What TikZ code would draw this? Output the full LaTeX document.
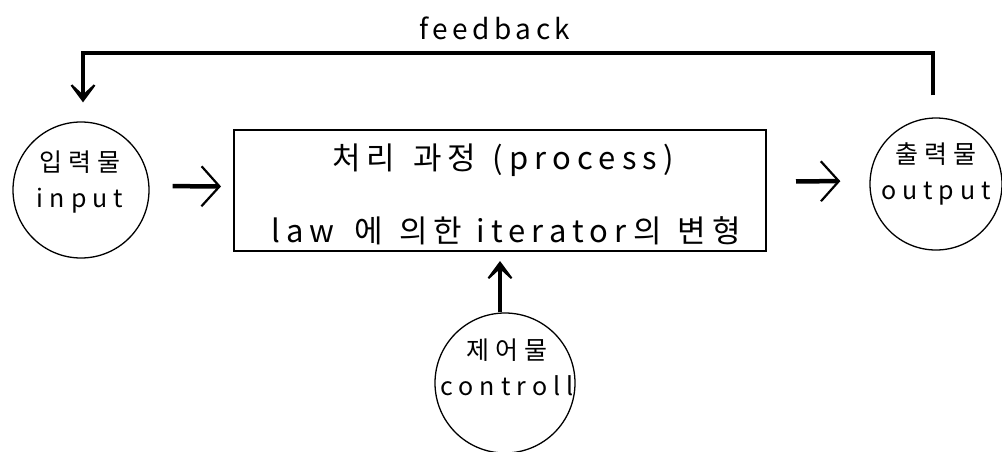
\documentclass[tikz,border=0pt]{standalone}
\usepackage{fontspec}
\setmainfont{Noto Sans CJK KR}
\newfontfamily\kr{Noto Sans CJK KR}[LetterSpace=20]
\newfontfamily\krc{Noto Sans CJK KR}[LetterSpace=24]
\newfontfamily\krf{Noto Sans CJK KR}[LetterSpace=16]
\usetikzlibrary{arrows.meta,calc}
\begin{document}
\begin{tikzpicture}[x=1pt,y=-1pt,
  blob/.style={circle,draw,line width=1.3pt,minimum size=#1,inner sep=0pt},
  blobtext/.style={align=center,inner sep=0pt,font=\krc\fontsize{25}{36}\selectfont},
  procbox/.style={draw,line width=2pt,minimum width=532pt,minimum height=121pt,inner sep=0pt},
  flow/.style={line width=4.5pt,-{Straight Barb[length=18pt,width=40pt,line width=2.2pt]}},
  fb/.style={line width=4pt,-{Stealth[length=25pt,width=37pt,inset=17pt]}},
  lbl/.style={font=\kr\fontsize{31}{34}\selectfont,inner sep=0pt,anchor=base}]
\useasboundingbox (0,0) rectangle (1002,451);
\node[blob=136pt] (inp) at (81,190) {};
\node[blobtext] (inpT) at (80,182) {입력물\\input};
\node[procbox] (proc) at (500,190.5) {};
\node[lbl] (t1) at (503,169) {처리\hspace{18pt}과정\hspace{16pt}(process)};
\node[lbl] (t2) at (506,242) {law\hspace{20pt}에\hspace{16pt}의한\hspace{14pt}iterator의\hspace{16pt}변형};
\node[blob=132pt] (out) at (936,184) {};
\node[blobtext] (outT) at (936,174) {출력물\\output};
\node[blob=140pt] (ctl) at (505,383) {};
\node[blobtext] (ctlT) at (507,367) {제어물\\controll};
\node[font=\krf\fontsize{28}{30}\selectfont,inner sep=0pt] (fbl) at (495,28) {feedback};
\draw[flow,shorten <=23pt,shorten >=12pt] ($(inp.east)+(0,-4)$) -- ($(proc.west)+(0,-4)$);
\draw[flow,shorten <=29pt,shorten >=29pt] ($(proc.east)+(0,-9)$) -- ($(out.west)+(0,-3)$);
\draw[fb,shorten >=9pt] (proc.south |- ctl.north) -- (proc.south);
\draw[fb,shorten <=22pt,shorten >=19pt] ($(out.north)+(-3,0)$) -- ++(0,-64) -| ($(inp.north)+(2,0)$);
\end{tikzpicture}
\end{document}
